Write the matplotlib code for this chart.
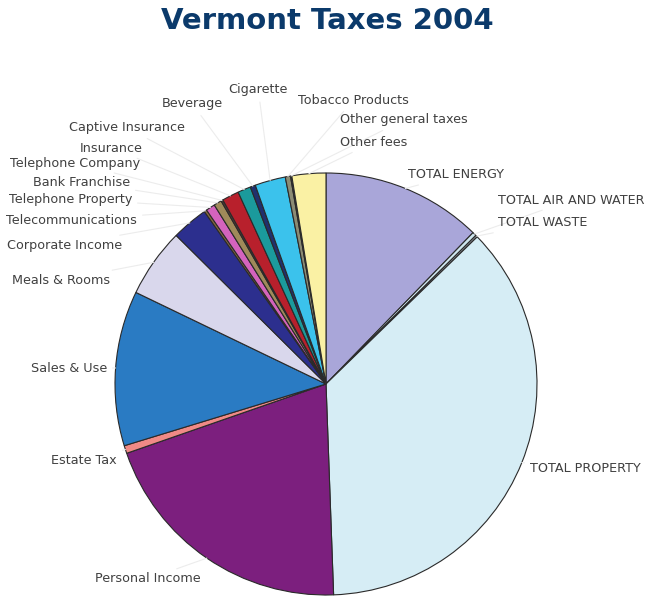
import numpy as np
import matplotlib
matplotlib.use("Agg")
import matplotlib.pyplot as plt

# share of 2004 revenue (percent), clockwise from 12 o'clock
labels = ["TOTAL ENERGY", "TOTAL AIR AND WATER", "TOTAL WASTE", "TOTAL PROPERTY",
          "Personal Income", "Estate Tax", "Sales & Use", "Meals & Rooms",
          "Corporate Income", "Telecommunications", "Telephone Property",
          "Bank Franchise", "Telephone Company", "Insurance", "Captive Insurance",
          "Beverage", "Cigarette", "Tobacco Products", "Other general taxes",
          "Other fees"]
shares = [12.3, 0.3, 0.15, 36.8,
          20.3, 0.6, 11.9, 5.3,
          2.8, 0.2, 0.7,
          0.6, 0.15, 1.3, 1.0,
          0.4, 2.35, 0.4, 0.1,
          2.6]
colors = ["#a9a6d9", "#cfe6ee", "#9aa0a8", "#d6edf5",
          "#7c1f7e", "#f08a86", "#2a7bc3", "#d9d7ec",
          "#2c2f8e", "#8a6a40", "#d463bd",
          "#a08a5a", "#5a3a30", "#b8202c", "#1b9a9c",
          "#20306e", "#3bc2ec", "#8c8c74", "#404040",
          "#faf1a4"]

# label anchors in picture pixels (x, y from top) and alignment
label_pos = [(408, 175, "left"), (498, 200, "left"), (498, 223, "left"), (530, 468, "left"),
             (95, 579, "left"), (117, 460, "right"), (107, 368, "right"), (110, 280, "right"),
             (122, 245, "right"), (137, 220, "right"), (132, 199, "right"),
             (130, 182, "right"), (140, 163, "right"), (143, 148, "right"), (185, 128, "right"),
             (223, 104, "right"), (288, 90, "right"), (298, 100, "left"), (340, 120, "left"),
             (340, 142, "left")]

W, H = 654, 598
fig = plt.figure(figsize=(W / 100, H / 100), dpi=100)
ax = fig.add_axes([0, 0, 1, 1])

cx, cy, r = 326, H - 384, 211
wedges, _ = ax.pie(shares, colors=colors, startangle=90, counterclock=False,
                   center=(cx, cy), radius=r, frame=True,
                   wedgeprops=dict(edgecolor="#2a2a2a", linewidth=0.8))

for w, lab, (tx, ty, ha) in zip(wedges, labels, label_pos):
    mid = np.deg2rad((w.theta1 + w.theta2) / 2)
    ex, ey = cx + r * np.cos(mid), cy + r * np.sin(mid)
    ax.annotate(lab, xy=(ex, ey), xytext=(tx, H - ty), ha=ha, va="center",
                fontsize=9.2, color="#404040",
                arrowprops=dict(arrowstyle="-", color="#ececec", lw=0.8,
                                shrinkA=2, shrinkB=0))

fig.text(0.5, 1 - 21 / H, "Vermont Taxes 2004", ha="center", va="center",
         fontsize=21, fontweight="bold", color="#0b3a6b")

ax.set_xlim(0, W)
ax.set_ylim(0, H)
ax.set_aspect("equal")
ax.axis("off")

fig.savefig("out.png", dpi=100)
